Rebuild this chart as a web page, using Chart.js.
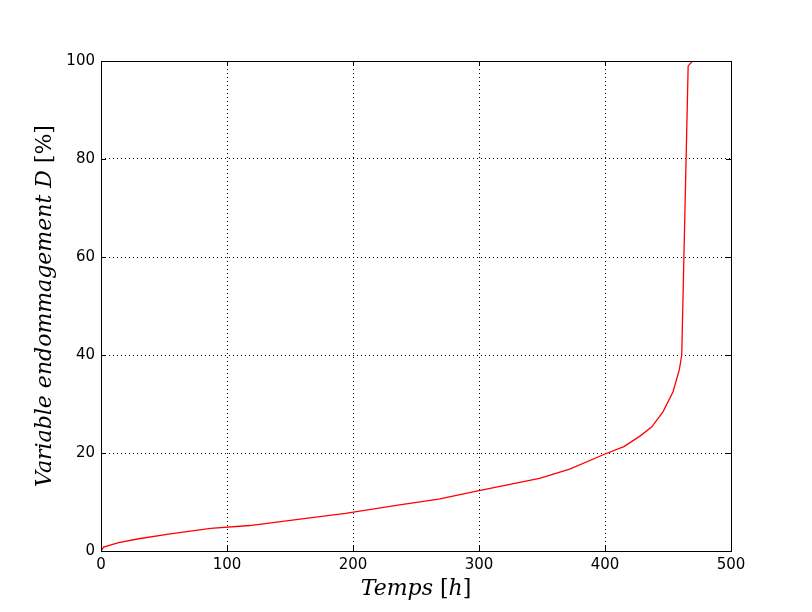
<!DOCTYPE html>
<html>
<head>
<meta charset="utf-8">
<script src="https://cdn.jsdelivr.net/npm/chart.js@4/dist/chart.umd.min.js"></script>
<style>
html,body{margin:0;padding:0;background:#fff;}
#wrap{width:812px;height:612px;}
</style>
</head>
<body>
<div id="wrap"><canvas id="c" width="812" height="612"></canvas></div>
<script>
const hours  = [0, 2, 14, 30, 55, 87, 118, 158, 194, 237, 268, 300, 348, 372, 400, 415, 428, 437, 446, 454, 459, 460.9, 466, 469.5];
const damage = [0, 0.8, 1.7, 2.5, 3.5, 4.6, 5.2, 6.5, 7.7, 9.4, 10.6, 12.3, 14.8, 16.7, 19.8, 21.3, 23.5, 25.3, 28.4, 32.5, 37, 40, 99, 100];
const xTicks = [0, 100, 200, 300, 400, 500];
const yTicks = [0, 20, 40, 60, 80, 100];
// title pieces: [text, italic?]
const xTitleParts = [['Temps', true], [' [', false], ['h', true], [']', false]];
const yTitleParts = [['Variable endommagement D', true], [' [%]', false]];

const points = hours.map((h, i) => ({x: h, y: damage[i]}));

function fontFor(italic) {
  return (italic ? 'italic ' : '') + '22px "DejaVu Serif"';
}
function drawParts(ctx, parts, cx, cy) {
  let total = 0;
  parts.forEach(([t, it]) => { ctx.font = fontFor(it); total += ctx.measureText(t).width; });
  let x = cx - total / 2;
  ctx.textBaseline = 'middle';
  ctx.textAlign = 'left';
  parts.forEach(([t, it]) => {
    ctx.font = fontFor(it);
    ctx.fillText(t, x, cy);
    x += ctx.measureText(t).width;
  });
}

const frame = {
  id: 'frame',
  afterDatasetsDraw(chart) {
    const {ctx, chartArea: a, scales} = chart;
    ctx.save();
    ctx.strokeStyle = '#000';
    ctx.lineWidth = 1;
    ctx.beginPath();
    const L = 5;
    xTicks.forEach(v => {
      const px = Math.round(scales.x.getPixelForValue(v)) + 0.5;
      ctx.moveTo(px, a.bottom); ctx.lineTo(px, a.bottom - L);
      ctx.moveTo(px, a.top); ctx.lineTo(px, a.top + L);
    });
    yTicks.forEach(v => {
      const py = Math.round(scales.y.getPixelForValue(v)) + 0.5;
      ctx.moveTo(a.left, py); ctx.lineTo(a.left + L, py);
      ctx.moveTo(a.right, py); ctx.lineTo(a.right - L, py);
    });
    ctx.stroke();
    ctx.strokeRect(Math.round(a.left) + 0.5, Math.round(a.top) + 0.5, Math.round(a.right - a.left), Math.round(a.bottom - a.top));

    ctx.fillStyle = '#000';
    drawParts(ctx, xTitleParts, (a.left + a.right) / 2, 589);
    ctx.save();
    ctx.translate(45, (a.top + a.bottom) / 2);
    ctx.rotate(-Math.PI / 2);
    drawParts(ctx, yTitleParts, 0, 0);
    ctx.restore();
    ctx.restore();
  }
};

new Chart(document.getElementById('c'), {
  type: 'scatter',
  data: {
    datasets: [{
      data: points,
      showLine: true,
      borderColor: '#ff0000',
      borderWidth: 1.3,
      pointRadius: 0,
      tension: 0,
      fill: false
    }]
  },
  options: {
    responsive: false,
    animation: false,
    devicePixelRatio: 1,
    layout: {padding: {left: 0, right: 81, top: 61, bottom: 0}},
    plugins: {legend: {display: false}, tooltip: {enabled: false}},
    scales: {
      x: {
        type: 'linear', min: 0, max: 500,
        afterFit(s) { s.height = 61; },
        afterBuildTicks(s) { s.ticks = xTicks.map(v => ({value: v})); },
        grid: {color: '#000', lineWidth: 1, drawTicks: false},
        border: {display: false, dash: [1, 3]},
        ticks: {color: '#000', font: {family: 'DejaVu Sans', size: 15}, padding: 5, maxRotation: 0},
        title: {display: false}
      },
      y: {
        type: 'linear', min: 0, max: 100,
        afterFit(s) { s.width = 101; },
        afterBuildTicks(s) { s.ticks = yTicks.map(v => ({value: v})); },
        grid: {color: '#000', lineWidth: 1, drawTicks: false},
        border: {display: false, dash: [1, 3]},
        ticks: {color: '#000', font: {family: 'DejaVu Sans', size: 15}, padding: 6},
        title: {display: false}
      }
    }
  },
  plugins: [frame]
});
</script>
</body>
</html>
